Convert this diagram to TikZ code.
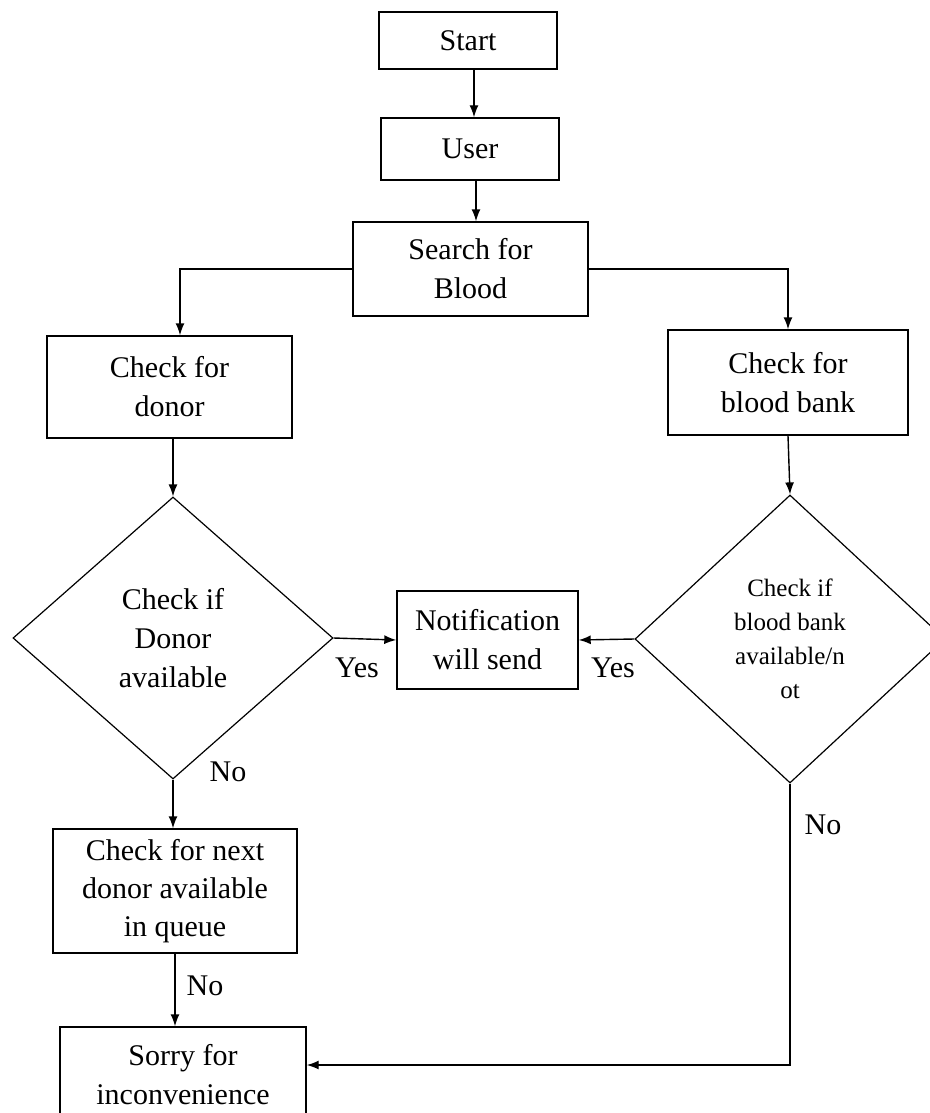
\documentclass[tikz,border=0pt]{standalone}
\usepackage{fontspec}
\setmainfont{Liberation Serif}
\usetikzlibrary{shapes.geometric,arrows.meta}

\begin{document}
\begin{tikzpicture}[x=10pt,y=10pt,line width=1.4pt,>={Latex[length=12pt,width=9pt]}]
\tikzstyle{every node}+=[inner sep=0pt,align=center,font=\fontsize{30}{39}\selectfont]
\tikzstyle{box}=[draw,rectangle]
\tikzstyle{decide}=[draw,diamond,line width=1.2pt]
\useasboundingbox (0,0) rectangle (92.9,-111.3);
% boxes
\node [box,minimum width=178pt,minimum height=57pt] (start) at (46.8,-4.05) {Start};
\node [box,minimum width=178pt,minimum height=62pt] (user) at (47.0,-14.9) {User};
\node [box,minimum width=235pt,minimum height=94pt] (search) at (47.05,-26.9) {Search for\\Blood};
\node [box,minimum width=245pt,minimum height=102pt] (donor) at (16.95,-38.7) {Check for\\donor};
\node [box,minimum width=240pt,minimum height=105pt] (bank) at (78.8,-38.25) {Check for\\blood bank};
\node [decide,minimum width=320pt,minimum height=282pt] (ddonor) at (17.3,-63.8) {Check if\\Donor\\available};
\node [decide,minimum width=310pt,minimum height=288pt,font=\fontsize{25}{34}\selectfont] (dbank) at (79.0,-63.9) {Check if\\blood bank\\available/n\\ot};
\node [box,minimum width=181pt,minimum height=98pt] (notify) at (48.75,-64.0) {Notification\\will send};
\node [box,minimum width=244pt,minimum height=124pt,font=\fontsize{30}{38}\selectfont] (next) at (17.5,-89.1) {Check for next\\donor available\\in queue};
\node [box,minimum width=246pt,minimum height=96pt] (sorry) at (18.3,-107.5) {Sorry for\\inconvenience};
% labels
\node (yesl) at (35.7,-66.8) {Yes};
\node (yesr) at (61.3,-66.8) {Yes};
\node (nodonor) at (22.8,-77.2) {No};
\node (nonext) at (20.5,-98.6) {No};
\node (nobank) at (82.3,-82.5) {No};
% turns
\coordinate (lturn) at (18.0,-26.9);
\coordinate (rturn) at (79.0,-106.5);
\coordinate (topaxis) at (47.4,0);
\coordinate (midaxis) at (47.6,0);
% connectors
\draw [->] (start.south -| topaxis) -- (user.north -| topaxis);
\draw [->] (user.south -| midaxis) -- (search.north -| midaxis);
\draw [->] (search.west) -- (lturn) -- (lturn |- donor.north);
\draw [->] (search.east) -| (bank.north);
\draw [->] (ddonor.north |- donor.south) -- (ddonor.north);
\draw [->] (bank.south) -- (dbank.north);
\draw [->] (ddonor.east) -- (notify.west);
\draw [->] (dbank.west) -- (notify.east);
\draw [->] (ddonor.south) -- (ddonor.south |- next.north);
\draw [->] (next.south) -- (next.south |- sorry.north);
\draw [->] (dbank.south) -- (rturn) -- (rturn -| sorry.east);
\end{tikzpicture}
\end{document}
